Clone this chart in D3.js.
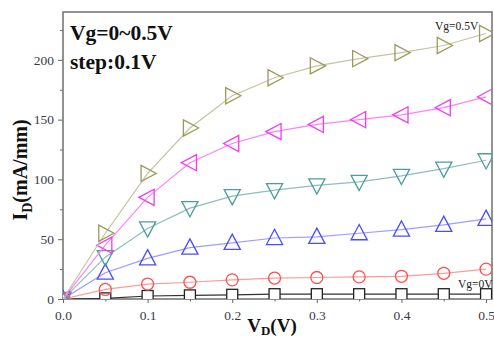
<!DOCTYPE html>
<html><head><meta charset="utf-8">
<script src="https://cdn.jsdelivr.net/npm/d3@7"></script>
<style>body{margin:0;background:#fff}svg{display:block}</style>
</head><body>
<svg id="c" width="494" height="338"></svg>
<script>
const vd = [0, 0.05, 0.1, 0.15, 0.2, 0.25, 0.3, 0.35, 0.4, 0.45, 0.5];
const vg0  = [0, 0.5, 2.5, 3, 3.5, 4, 4, 4, 4, 4, 4];
const vg01 = [0, 8, 12.5, 14, 16, 17.5, 18, 18.5, 19, 21.5, 25];
const vg02 = [0, 22, 34, 43, 47, 51, 52, 55, 58, 62, 67];
const vg03 = [0, 35, 59, 76, 86, 91, 95, 98, 103, 109, 116];
const vg04 = [0, 45, 85, 114, 130, 140, 146, 150, 154, 160, 169];
const vg05 = [0, 55, 105, 143, 170, 185, 195, 201, 206, 212, 222];
const xTicks = [0, 0.1, 0.2, 0.3, 0.4, 0.5];
const xTickLabels = ["0.0", "0.1", "0.2", "0.3", "0.4", "0.5"];
const yTicks = [0, 50, 100, 150, 200];

const series = [
  {v: vg0,  marker: "square", stroke: "#222222", line: "#333333"},
  {v: vg01, marker: "circle", stroke: "#ff5050", line: "#ff9a9a"},
  {v: vg02, marker: "up",     stroke: "#4b4bff", line: "#9d9dff"},
  {v: vg03, marker: "down",   stroke: "#4f9c9c", line: "#8dbebe"},
  {v: vg04, marker: "left",   stroke: "#f03cf0", line: "#ff80ff"},
  {v: vg05, marker: "right",  stroke: "#9a9a5a", line: "#c4c4a0"}
];

const L = 63, R = 492, T = 12, B = 299;
const x = d3.scaleLinear().domain([0, 0.507]).range([L, R]);
const y = d3.scaleLinear().domain([0, 240]).range([B, T]);
const svg = d3.select("#c");
const serif = "'Liberation Serif','Times New Roman',serif";

svg.append("defs").append("clipPath").attr("id", "clip")
  .append("rect").attr("x", L).attr("y", T).attr("width", R - L).attr("height", B - T);

// axes
const xAxis = d3.axisBottom(x).tickValues(xTicks).tickFormat((d, i) => xTickLabels[i]).tickSize(4).tickPadding(7);
const xMinor = d3.axisBottom(x).tickValues([0.05, 0.15, 0.25, 0.35, 0.45]).tickFormat("").tickSize(2.5);
const yAxis = d3.axisLeft(y).tickValues(yTicks).tickSize(5).tickPadding(4);
const yMinor = d3.axisLeft(y).tickValues([25, 75, 125, 175, 225]).tickFormat("").tickSize(3);

function style(g) {
  g.select(".domain").remove();
  g.selectAll("line").attr("stroke", "#666");
  g.selectAll("text").attr("fill", "#3a3a48").attr("font-family", serif).attr("font-size", 13.5);
}
svg.append("g").attr("transform", `translate(0,${B})`).call(xAxis).call(style);
svg.append("g").attr("transform", `translate(0,${B})`).call(xMinor).call(style);
svg.append("g").attr("transform", `translate(${L},0)`).call(yAxis).call(style);
svg.append("g").attr("transform", `translate(${L},0)`).call(yMinor).call(style);

// frame
svg.append("rect").attr("x", L).attr("y", T).attr("width", R - L).attr("height", B - T)
  .attr("fill", "none").attr("stroke", "#777").attr("stroke-width", 1.6);

// data
const plot = svg.append("g").attr("clip-path", "url(#clip)");
const line = d3.line().x((d, i) => x(vd[i])).y(d => y(d));
const triPath = (dir, s) => {
  const h = s * 0.9;
  if (dir === "up") return `M0,${-s*0.6}L${h*0.62},${s*0.45}L${-h*0.62},${s*0.45}Z`;
  if (dir === "down") return `M0,${s*0.6}L${h*0.62},${-s*0.45}L${-h*0.62},${-s*0.45}Z`;
  if (dir === "right") return `M${s*0.6},0L${-s*0.45},${h*0.62}L${-s*0.45},${-h*0.62}Z`;
  return `M${-s*0.6},0L${s*0.45},${h*0.62}L${s*0.45},${-h*0.62}Z`;
};
series.forEach(s => {
  plot.append("path").datum(s.v).attr("d", line).attr("fill", "none")
    .attr("stroke", s.line).attr("stroke-width", 1.2);
  const g = plot.selectAll(null).data(s.v).enter().append("g")
    .attr("transform", (d, i) => `translate(${x(vd[i])},${y(d)})`);
  if (s.marker === "circle") {
    g.append("circle").attr("r", 6).attr("fill", "none").attr("stroke", s.stroke).attr("stroke-width", 1.3);
  } else if (s.marker === "square") {
    g.append("rect").attr("x", -5.5).attr("y", -5.5).attr("width", 11).attr("height", 11)
      .attr("fill", "white").attr("stroke", s.stroke).attr("stroke-width", 1.3);
  } else {
    g.append("path").attr("d", triPath(s.marker, 14.5)).attr("fill", "none")
      .attr("stroke", s.stroke).attr("stroke-width", 1.3);
  }
});

// annotations
svg.append("text").attr("x", 70).attr("y", 40).attr("font-family", serif).attr("font-weight", "bold")
  .attr("font-size", 21.5).attr("fill", "#111").text("Vg=0~0.5V");
svg.append("text").attr("x", 70).attr("y", 69).attr("font-family", serif).attr("font-weight", "bold")
  .attr("font-size", 21.5).attr("fill", "#111").text("step:0.1V");
svg.append("text").attr("x", 435).attr("y", 30).attr("font-family", serif)
  .attr("font-size", 11.5).attr("fill", "#222").text("Vg=0.5V");
svg.append("text").attr("x", 458).attr("y", 288).attr("font-family", serif)
  .attr("font-size", 11.5).attr("fill", "#222").text("Vg=0V");

// axis titles
const yl = svg.append("text").attr("transform", "translate(27,170) rotate(-90)")
  .attr("text-anchor", "middle").attr("font-family", serif).attr("font-weight", "bold")
  .attr("font-size", 20).attr("fill", "#111");
yl.append("tspan").text("I");
yl.append("tspan").attr("font-size", 14).attr("dy", 5).text("D");
yl.append("tspan").attr("dy", -5).text("(mA/mm)");

const xl = svg.append("text").attr("x", 272).attr("y", 332)
  .attr("text-anchor", "middle").attr("font-family", serif).attr("font-weight", "bold")
  .attr("font-size", 19).attr("fill", "#111");
xl.append("tspan").text("V");
xl.append("tspan").attr("font-size", 13).attr("dy", 3).text("D");
xl.append("tspan").attr("dy", -3).text("(V)");
</script>
</body></html>
